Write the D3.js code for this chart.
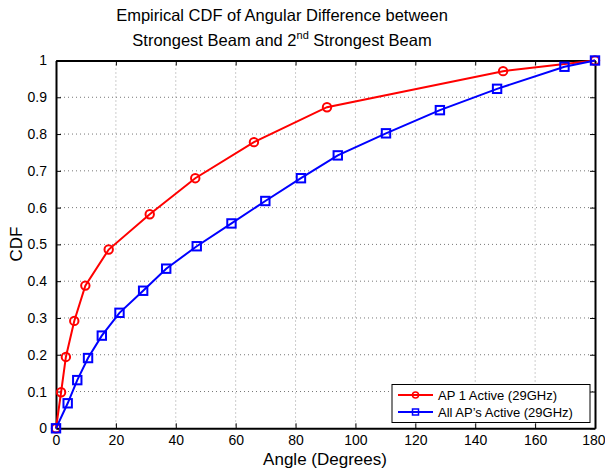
<!DOCTYPE html>
<html>
<head>
<meta charset="utf-8">
<script src="https://cdn.jsdelivr.net/npm/d3@7"></script>
<style>
  html, body { margin: 0; padding: 0; background: #fff; }
  svg { display: block; font-family: "Liberation Sans", Arial, Helvetica, sans-serif; }
</style>
</head>
<body>
<svg id="chart" width="605" height="471"></svg>
<script>
// Angular difference (degrees) and empirical CDF for each configuration
const apOneAngles = [0, 1.7, 3.3, 6.1, 9.8, 17.6, 31.3, 46.5, 66.1, 90.5, 149.3, 180];
const apOneCdf    = [0, 0.098, 0.194, 0.292, 0.388, 0.486, 0.582, 0.680, 0.778, 0.873, 0.971, 1];

const allApAngles = [0, 3.9, 7.1, 10.7, 15.3, 21.2, 29.1, 36.8, 47.0, 58.6, 69.9, 81.8, 94.1, 110.2, 128.2, 147.3, 169.8, 180];
const allApCdf    = [0, 0.068, 0.131, 0.191, 0.252, 0.314, 0.374, 0.434, 0.495, 0.557, 0.618, 0.680, 0.742, 0.802, 0.865, 0.923, 0.983, 1];

const xTicks = [0, 20, 40, 60, 80, 100, 120, 140, 160, 180];
const yTicks = [0, 0.1, 0.2, 0.3, 0.4, 0.5, 0.6, 0.7, 0.8, 0.9, 1];
const yTickLabels = ["0", "0.1", "0.2", "0.3", "0.4", "0.5", "0.6", "0.7", "0.8", "0.9", "1"];

const seriesNames = ["AP 1 Active (29GHz)", "All AP\u2019s Active (29GHz)"];

const svg = d3.select("#chart");
const plotLeft = 56, plotRight = 595, plotTop = 60.5, plotBottom = 428.3;

const x = d3.scaleLinear().domain([0, 180]).range([plotLeft, plotRight]);
const y = d3.scaleLinear().domain([0, 1]).range([plotBottom, plotTop]);

// dotted grid
const grid = svg.append("g");
grid.selectAll("line.gx").data(xTicks.slice(1, -1)).join("line")
  .attr("x1", d => x(d)).attr("x2", d => x(d))
  .attr("y1", plotTop).attr("y2", plotBottom)
  .attr("stroke", "#9a9a9a").attr("stroke-width", 1).attr("stroke-dasharray", "1,3");
grid.selectAll("line.gy").data(yTicks.slice(1, -1)).join("line")
  .attr("x1", plotLeft).attr("x2", plotRight)
  .attr("y1", d => y(d)).attr("y2", d => y(d))
  .attr("stroke", "#777").attr("stroke-width", 1).attr("stroke-dasharray", "1,3");

// axes with inward ticks on all four sides
const tickFont = g => g.selectAll("text").attr("font-size", 14).attr("fill", "#000");
const xb = svg.append("g").attr("transform", `translate(0,${plotBottom})`)
  .call(d3.axisBottom(x).tickValues(xTicks).tickSizeInner(-5).tickSizeOuter(0).tickPadding(7).tickFormat(d3.format("d")));
const xt = svg.append("g").attr("transform", `translate(0,${plotTop})`)
  .call(d3.axisTop(x).tickValues(xTicks).tickSizeInner(-5).tickSizeOuter(0).tickFormat(""));
const yl = svg.append("g").attr("transform", `translate(${plotLeft},0)`)
  .call(d3.axisLeft(y).tickValues(yTicks).tickSizeInner(-5).tickSizeOuter(0).tickPadding(9)
    .tickFormat((d, i) => yTickLabels[i]));
const yr = svg.append("g").attr("transform", `translate(${plotRight},0)`)
  .call(d3.axisRight(y).tickValues(yTicks).tickSizeInner(-5).tickSizeOuter(0).tickFormat(""));
[xb, xt, yl, yr].forEach(g => {
  g.select(".domain").attr("stroke", "#000").attr("stroke-width", 2);
  g.selectAll(".tick line").attr("stroke", "#000").attr("stroke-width", 1);
  g.call(tickFont);
});
// keep the last x label inside the canvas edge
xb.selectAll(".tick text").filter(d => d === 180).attr("text-anchor", "end").attr("x", 10);

// series
const line = d3.line().x(d => x(d[0])).y(d => y(d[1]));
const apOne = apOneAngles.map((a, i) => [a, apOneCdf[i]]);
const allAp = allApAngles.map((a, i) => [a, allApCdf[i]]);

svg.append("path").datum(apOne).attr("d", line)
  .attr("fill", "none").attr("stroke", "#ff0000").attr("stroke-width", 2);
svg.append("g").selectAll("circle").data(apOne).join("circle")
  .attr("cx", d => x(d[0])).attr("cy", d => y(d[1])).attr("r", 4.2)
  .attr("fill", "none").attr("stroke", "#ff0000").attr("stroke-width", 2);

svg.append("path").datum(allAp).attr("d", line)
  .attr("fill", "none").attr("stroke", "#0000ff").attr("stroke-width", 2);
svg.append("g").selectAll("rect").data(allAp).join("rect")
  .attr("x", d => x(d[0]) - 4.2).attr("y", d => y(d[1]) - 4.2)
  .attr("width", 8.4).attr("height", 8.4)
  .attr("fill", "none").attr("stroke", "#0000ff").attr("stroke-width", 2);

// title
svg.append("text").attr("x", 282).attr("y", 21).attr("font-size", 16.5)
  .attr("text-anchor", "middle").attr("fill", "#000")
  .text("Empirical CDF of Angular Difference between");
const t2 = svg.append("text").attr("x", 282).attr("y", 46).attr("font-size", 16.5)
  .attr("text-anchor", "middle").attr("fill", "#000");
t2.append("tspan").text("Strongest Beam and 2");
t2.append("tspan").attr("font-size", 11).attr("dy", -7).text("nd");
t2.append("tspan").attr("dy", 7).text(" Strongest Beam");

// axis labels
svg.append("text").attr("x", 325).attr("y", 465).attr("text-anchor", "middle")
  .attr("font-size", 17).text("Angle (Degrees)");
svg.append("text").attr("transform", "translate(22,244) rotate(-90)").attr("text-anchor", "middle")
  .attr("font-size", 17).text("CDF");

// legend
const lg = svg.append("g");
lg.append("rect").attr("x", 392).attr("y", 384.5).attr("width", 198).attr("height", 38)
  .attr("fill", "#fff").attr("stroke", "#000").attr("stroke-width", 1);
const legendRows = [
  { name: seriesNames[0], color: "#ff0000", shape: "circle", yy: 395 },
  { name: seriesNames[1], color: "#0000ff", shape: "square", yy: 412 }
];
legendRows.forEach(r => {
  lg.append("line").attr("x1", 398).attr("x2", 433).attr("y1", r.yy).attr("y2", r.yy)
    .attr("stroke", r.color).attr("stroke-width", 2);
  if (r.shape === "circle") {
    lg.append("circle").attr("cx", 415.5).attr("cy", r.yy).attr("r", 3)
      .attr("fill", "none").attr("stroke", r.color).attr("stroke-width", 1.5);
  } else {
    lg.append("rect").attr("x", 412.5).attr("y", r.yy - 3).attr("width", 6).attr("height", 6)
      .attr("fill", "none").attr("stroke", r.color).attr("stroke-width", 1.5);
  }
  lg.append("text").attr("x", 438).attr("y", r.yy).attr("dy", "0.35em")
    .attr("font-size", 13).text(r.name);
});
</script>
</body>
</html>
